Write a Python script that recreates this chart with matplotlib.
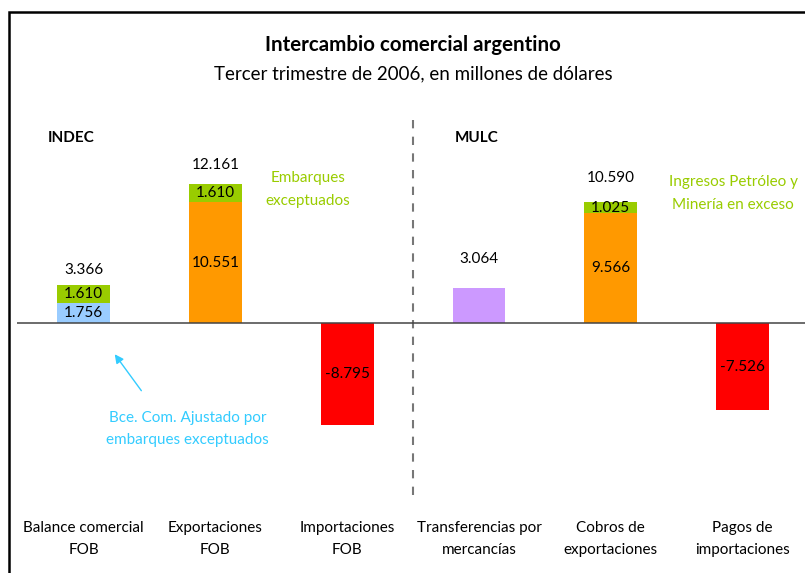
import matplotlib
matplotlib.use("Agg")
import matplotlib.pyplot as plt
from matplotlib.patches import Rectangle

plt.rcParams['font.family'] = ['Lato', 'DejaVu Sans']

categories = ["Balance comercial\nFOB", "Exportaciones\nFOB", "Importaciones\nFOB",
              "Transferencias por\nmercancías", "Cobros de\nexportaciones", "Pagos de\nimportaciones"]
base = [1.756, 10.551, -8.795, 3.064, 9.566, -7.526]
extra = [1.610, 1.610, 0, 0, 1.025, 0]
totals = ["3.366", "12.161", None, "3.064", "10.590", None]
base_labels = ["1.756", "10.551", "-8.795", None, "9.566", "-7.526"]
extra_labels = ["1.610", "1.610", None, None, "1.025", None]
base_colors = ["#99CCFF", "#FF9900", "#FF0000", "#CC99FF", "#FF9900", "#FF0000"]
green = "#99CC00"
cyan = "#33CCFF"

# offsets of the total labels above each bar (layout only)
total_offsets = [1.3, 1.6, 0, 2.55, 2.05, 0]

fig = plt.figure(figsize=(8.05, 5.73), dpi=100)
ax = fig.add_axes([17 / 805, 73 / 573, 788 / 805, 440 / 573])
x = range(len(categories))

ax.bar(x, base, width=0.4, color=base_colors, zorder=2)
ax.bar(x, extra, width=0.4, bottom=base, color=green, zorder=2)

for i in x:
    if base_labels[i]:
        ax.text(i, base[i] / 2, base_labels[i], ha="center", va="center", fontsize=11)
    if extra_labels[i]:
        ax.text(i, base[i] + extra[i] / 2, extra_labels[i], ha="center", va="center", fontsize=11)
    if totals[i]:
        ax.text(i, base[i] + extra[i] + total_offsets[i], totals[i], ha="center", va="center", fontsize=11)

ax.axhline(0, color="#444444", lw=1.1, zorder=3)
ax.plot([2.5, 2.5], [-14.9, 18.1], color="#777777", lw=1.5, ls=(0, (4, 4)))

ax.text(-0.27, 16.1, "INDEC", fontsize=11, fontweight="bold", va="center")
ax.text(2.82, 16.1, "MULC", fontsize=11, fontweight="bold", va="center")
ax.text(1.70, 11.65, "Embarques\nexceptuados", color=green, fontsize=11, ha="center", va="center", linespacing=1.75)
ax.text(4.93, 11.3, "Ingresos Petróleo y\nMinería en exceso", color=green, fontsize=11, ha="center", va="center", linespacing=1.75)
ax.text(0.79, -9.17, "Bce. Com. Ajustado por\nembarques exceptuados", color=cyan, fontsize=11, ha="center", va="center", linespacing=1.7)
ax.annotate("", xy=(0.224, -2.48), xytext=(0.451, -6.04),
            arrowprops=dict(arrowstyle="-|>", color=cyan, lw=1, mutation_scale=13))

ax.set_xlim(-0.505, 5.474)
ax.set_ylim(-15.35, 22.91)
ax.set_xticks(list(x))
ax.set_xticklabels(categories, fontsize=11, linespacing=1.75)
ax.tick_params(axis="x", length=0, pad=15)
ax.set_yticks([])
for s in ax.spines.values():
    s.set_visible(False)

fig.text(413 / 805, 1 - 45 / 573, "Intercambio comercial argentino", ha="center", va="center",
         fontsize=14.8, fontweight="bold")
fig.text(413 / 805, 1 - 74 / 573, "Tercer trimestre de 2006, en millones de dólares", ha="center", va="center",
         fontsize=13.5)

fig.patches.append(Rectangle((9, -20), 820, 581, transform=None, fill=False, edgecolor="black", lw=1.8))

fig.savefig("out.png", dpi=100)
